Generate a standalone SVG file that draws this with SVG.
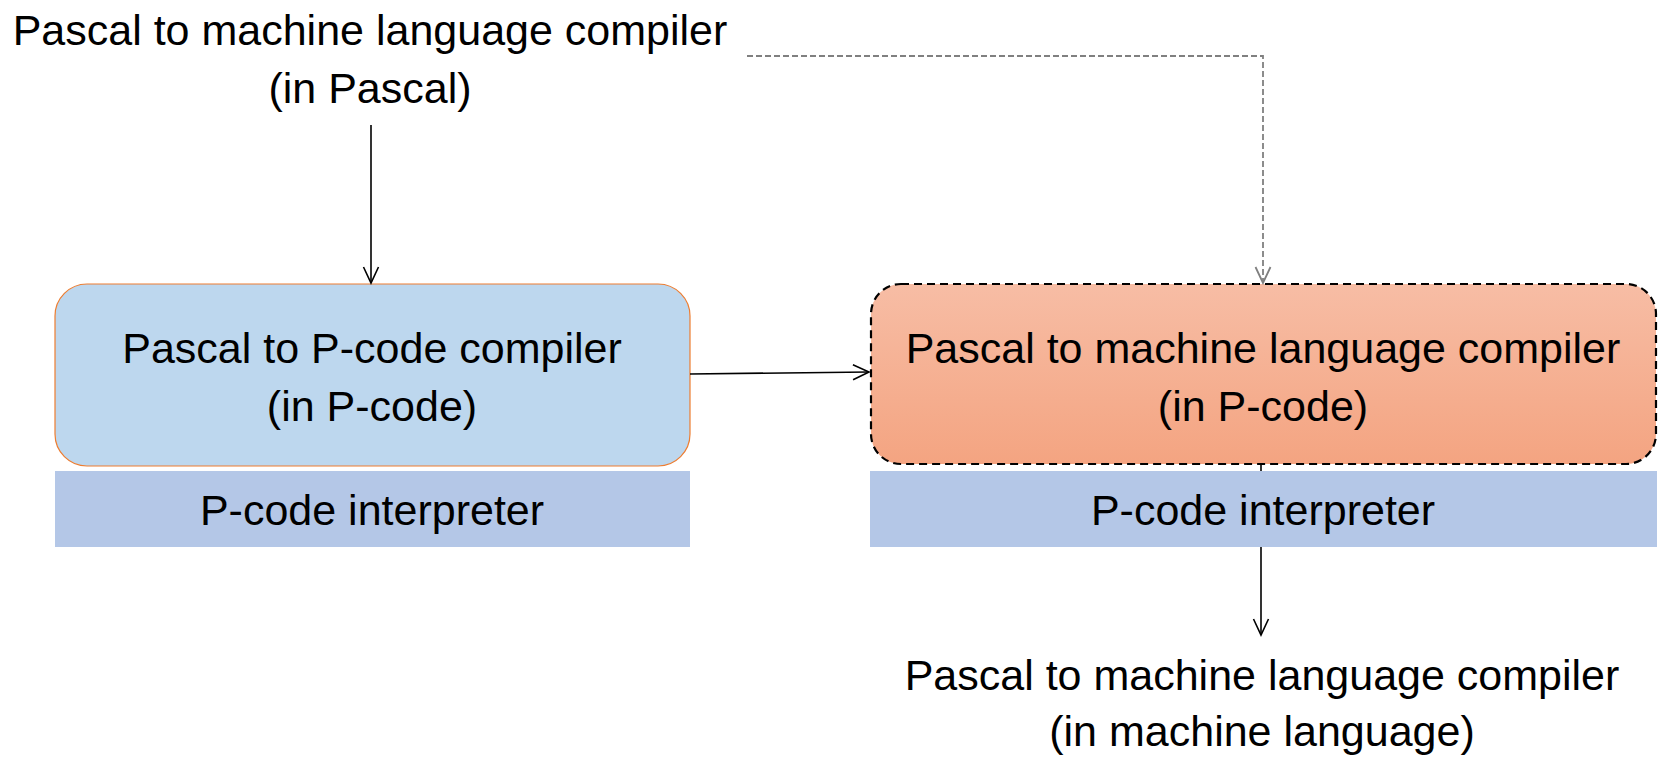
<svg xmlns="http://www.w3.org/2000/svg" width="1660" height="760" viewBox="0 0 1660 760">
<style>
text{font-family:"Liberation Sans",Arial,sans-serif;font-size:43px;fill:#000;text-anchor:middle}
.conn{fill:none;stroke:#000;stroke-width:1.6}
.gray{fill:none;stroke:#808080;stroke-width:1.8;stroke-dasharray:6 3}
.interp{fill:#B4C7E7}
</style>
<defs>
<linearGradient id="grad" x1="0" y1="0" x2="0" y2="1">
<stop offset="0" stop-color="#F7BDA5"/>
<stop offset="1" stop-color="#F4A481"/>
</linearGradient>
<marker id="arr" markerUnits="userSpaceOnUse" markerWidth="20" markerHeight="20" viewBox="-18 -10 20 20" refX="0" refY="0" orient="auto">
<path d="M-16,-7.5 L0,0 L-16,7.5" fill="none" stroke="#000" stroke-width="1.6"/>
</marker>
<marker id="arrg" markerUnits="userSpaceOnUse" markerWidth="20" markerHeight="20" viewBox="-18 -10 20 20" refX="0" refY="0" orient="auto">
<path d="M-16,-7.5 L0,0 L-16,7.5" fill="none" stroke="#808080" stroke-width="1.8"/>
</marker>
</defs>
<rect width="1660" height="760" fill="#fff"/>
<g id="source">
<text x="370" y="45">Pascal to machine language compiler</text>
<text x="370" y="103">(in Pascal)</text>
</g>
<g id="p-compiler">
<rect x="55" y="284" width="635" height="182" rx="32" fill="#BDD7EE" stroke="#ED7D31" stroke-width="1.2"/>
<text x="372" y="363">Pascal to P-code compiler</text>
<text x="372" y="421">(in P-code)</text>
</g>
<g id="interp-left">
<rect class="interp" x="55" y="471" width="635" height="76"/>
<text x="372" y="525">P-code interpreter</text>
</g>
<g id="m-compiler">
<rect x="871" y="284" width="785" height="180" rx="30" fill="url(#grad)" stroke="#000" stroke-width="2.2" stroke-dasharray="8 5"/>
<text x="1263" y="363">Pascal to machine language compiler</text>
<text x="1263" y="421">(in P-code)</text>
</g>
<g id="interp-right">
<rect class="interp" x="870" y="471" width="787" height="76"/>
<text x="1263" y="525">P-code interpreter</text>
</g>
<g id="target">
<text x="1262" y="690">Pascal to machine language compiler</text>
<text x="1262" y="746">(in machine language)</text>
</g>
<g id="connectors">
<line class="conn" x1="371" y1="125" x2="371" y2="283" marker-end="url(#arr)"/>
<line class="conn" x1="690" y1="374" x2="869" y2="372" marker-end="url(#arr)"/>
<polyline class="gray" points="747,56 1263,56 1263,283" marker-end="url(#arrg)"/>
<line class="conn" x1="1261" y1="464" x2="1261" y2="471"/>
<line class="conn" x1="1261" y1="547" x2="1261" y2="635" marker-end="url(#arr)"/>
</g>
</svg>
